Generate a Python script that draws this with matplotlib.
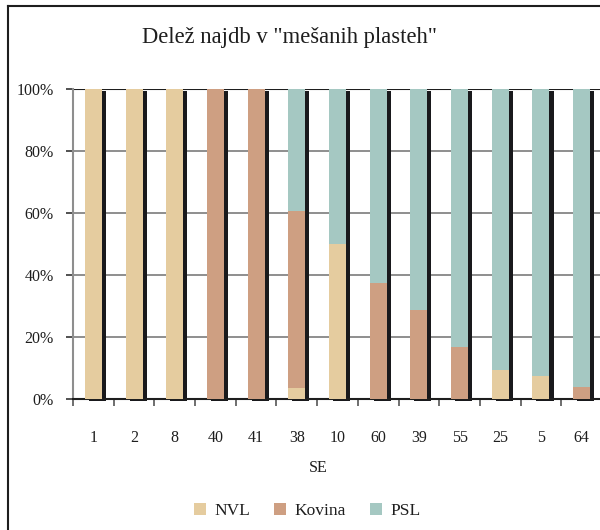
import matplotlib
matplotlib.use('Agg')
import matplotlib.pyplot as plt
import numpy as np
from matplotlib.patches import Patch
from matplotlib.lines import Line2D

plt.rcParams['font.family'] = ['Liberation Serif', 'DejaVu Serif']

# delež najdb po SE (v %)
categories = ['1', '2', '8', '40', '41', '38', '10', '60', '39', '55', '25', '5', '64']
nvl = [100, 100, 100, 0, 0, 3.6, 50, 0, 0, 0, 9.4, 7.4, 0]
kovina = [0, 0, 0, 100, 100, 57.1, 0, 37.3, 28.6, 16.7, 0, 0, 3.9]
psl = [0, 0, 0, 0, 0, 39.3, 50, 62.7, 71.4, 83.3, 90.6, 92.6, 96.1]
series = ['NVL', 'Kovina', 'PSL']
colors = ['#E5CC9F', '#CE9F82', '#A5C8C2']
yticks = [0, 20, 40, 60, 80, 100]

fig = plt.figure(figsize=(6, 5.3), dpi=100)
ax = fig.add_axes([0.1217, 0.2472, 0.8816, 0.5849])

x = np.arange(len(categories))
w = 0.42
nvl = np.array(nvl)
kovina = np.array(kovina)
psl = np.array(psl)
total = nvl + kovina + psl

# black "shadow" behind each bar
ax.bar(x + 0.1, total, w, bottom=-0.8, color='#19191c', zorder=2, clip_on=False)
ax.bar(x, nvl, w, color=colors[0], zorder=3)
ax.bar(x, kovina, w, bottom=nvl, color=colors[1], zorder=3)
ax.bar(x, psl, w, bottom=nvl + kovina, color=colors[2], zorder=3)

ax.set_xlim(-0.5, len(categories) - 0.5)
ax.set_ylim(0, 100)

for v in yticks[1:-1]:
    ax.axhline(v, color='#8e8e8e', lw=1.4, zorder=1)
ax.axhline(100, color='#1e1e1e', lw=1.5, zorder=1)

ax.set_yticks(yticks)
ax.set_yticklabels(['%d%%' % v for v in yticks])
ax.set_xticks(x)
ax.set_xticklabels(categories)
ax.set_xticks(np.arange(len(categories) + 1) - 0.5, minor=True)
ax.tick_params(axis='x', which='major', length=0, pad=22, labelsize=11.5, colors='#1e1e1e')
ax.tick_params(axis='x', which='minor', length=5, width=1.2, color='#555555')
ax.tick_params(axis='y', length=5, width=1.2, color='#333333', pad=9, labelsize=11.5,
               labelcolor='#1e1e1e')

for s in ['top', 'right']:
    ax.spines[s].set_visible(False)
ax.spines['left'].set_color('#8e8e8e')
ax.spines['left'].set_linewidth(1.5)
ax.spines['bottom'].set_color('#1e1e1e')
ax.spines['bottom'].set_linewidth(1.5)

fig.text(0.483, 0.919, 'Delež najdb v "mešanih plasteh"', ha='center', va='baseline',
         fontsize=16.3, color='#1e1e1e')
fig.text(0.53, 0.117, 'SE', ha='center', va='center', fontsize=11.5, color='#1e1e1e')

handles = [Patch(facecolor=c, edgecolor='none') for c in colors]
fig.legend(handles, series, loc='center', bbox_to_anchor=(0.512, 0.036), ncol=3,
           frameon=False, fontsize=12.5, handlelength=0.7, handleheight=0.7,
           handletextpad=0.45, columnspacing=1.4, labelcolor='#1e1e1e')

# outer frame
fig.add_artist(Line2D([0.0133, 1.0], [0.9887, 0.9887], color='#1e1e1e', lw=1.5,
                      transform=fig.transFigure))
fig.add_artist(Line2D([0.0133, 0.0133], [0.0, 0.9887], color='#1e1e1e', lw=1.5,
                      transform=fig.transFigure))

fig.savefig('out.png', dpi=100)
